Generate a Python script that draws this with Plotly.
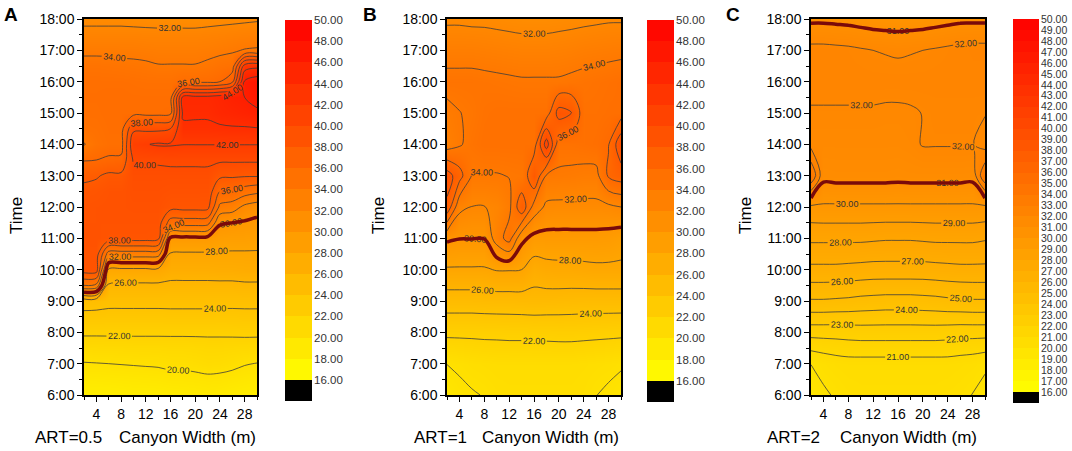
import plotly.graph_objects as go

# canyon width (m) and time of day (hours)
canyon_width = [2, 4, 6, 8, 10, 12, 14, 16, 18, 20, 22, 24, 26, 28, 30]
hours_a = [6, 6.5, 7, 7.5, 8, 8.5, 9, 9.5, 10, 10.5, 11, 11.5, 12,
           12.5, 13, 13.5, 14, 14.5, 15, 15.5, 16, 16.5, 17, 17.5, 18]
hours_bc = [6, 7, 8, 9, 10, 11, 12, 13, 14, 15, 16, 17, 18]

# ART=0.5 (rows = hours_a, cols = canyon_width)
temp_a = [
    [18.3, 18.3, 18.3, 18.4, 18.5, 18.5, 18.5, 18.6, 18.7, 18.8, 18.9, 18.8, 18.6, 18.5, 18.4],
    [19.1, 19.1, 19.15, 19.2, 19.25, 19.3, 19.35, 19.5, 19.5, 19.55, 19.65, 19.6, 19.45, 19.25, 19.1],
    [19.9, 19.95, 20.0, 20.05, 20.1, 20.15, 20.2, 20.35, 20.35, 20.5, 20.7, 20.6, 20.4, 20.1, 19.95],
    [21.0, 21.0, 21.05, 21.05, 21.1, 21.1, 21.1, 21.15, 21.15, 21.2, 21.3, 21.3, 21.2, 21.15, 21.1],
    [22.3, 22.3, 22.3, 22.3, 22.3, 22.3, 22.3, 22.3, 22.3, 22.3, 22.3, 22.3, 22.35, 22.4, 22.4],
    [23.5, 23.5, 23.45, 23.45, 23.45, 23.45, 23.45, 23.5, 23.5, 23.5, 23.5, 23.45, 23.45, 23.5, 23.5],
    [24.8, 24.7, 24.5, 24.5, 24.5, 24.5, 24.5, 24.5, 24.5, 24.5, 24.5, 24.5, 24.5, 24.5, 24.5],
    [34.0, 33.5, 25.7, 25.7, 25.7, 25.7, 25.7, 25.6, 25.6, 25.6, 25.6, 25.6, 25.6, 25.7, 25.7],
    [39.0, 39.0, 27.6, 27.6, 27.6, 27.6, 27.6, 26.9, 26.9, 26.9, 26.9, 27.0, 27.0, 27.1, 27.1],
    [38.9, 38.9, 33.0, 33.0, 33.0, 33.0, 32.8, 27.8, 27.8, 27.8, 27.8, 27.8, 27.8, 27.8, 27.8],
    [39.1, 39.1, 38.8, 38.8, 38.8, 38.8, 38.6, 29.5, 29.5, 29.5, 29.4, 28.9, 28.8, 28.8, 28.7],
    [39.0, 39.0, 39.0, 39.0, 39.0, 39.0, 39.0, 35.0, 35.0, 35.0, 34.8, 30.2, 30.0, 29.8, 29.5],
    [38.9, 39.0, 39.1, 39.1, 39.2, 39.2, 39.2, 38.7, 38.7, 38.7, 38.6, 33.5, 33.0, 31.5, 30.9],
    [38.6, 38.7, 39.0, 39.0, 39.4, 39.4, 39.4, 39.2, 39.2, 39.2, 39.2, 36.0, 35.8, 35.0, 34.5],
    [37.5, 37.8, 38.4, 38.4, 39.6, 39.6, 39.6, 39.6, 39.6, 39.6, 39.6, 38.4, 38.3, 38.2, 38.2],
    [35.9, 36.0, 36.3, 36.4, 40.2, 40.2, 40.2, 40.3, 40.3, 40.3, 40.3, 40.3, 40.3, 40.3, 40.3],
    [33.9, 34.8, 35.2, 35.2, 41.5, 41.9, 42.2, 42.2, 42.05, 42.05, 42.05, 42.05, 42.05, 42.05, 42.05],
    [34.9, 35.0, 35.3, 35.3, 39.6, 39.6, 39.6, 40.0, 43.6, 43.6, 43.6, 43.7, 43.8, 43.8, 43.9],
    [35.2, 35.2, 35.4, 35.4, 35.4, 35.4, 35.4, 35.5, 44.3, 44.3, 44.3, 44.8, 45.0, 45.3, 45.6],
    [35.3, 35.3, 35.4, 35.4, 35.3, 35.3, 35.3, 35.3, 44.6, 44.6, 44.6, 45.0, 45.6, 46.0, 46.8],
    [35.2, 35.2, 35.2, 35.2, 35.1, 35.0, 35.0, 35.0, 35.6, 35.6, 35.6, 36.0, 37.5, 46.3, 47.2],
    [34.7, 34.7, 34.6, 34.5, 34.4, 34.3, 34.1, 34.1, 34.1, 34.1, 34.4, 34.8, 35.0, 43.0, 43.5],
    [33.6, 33.6, 33.6, 33.5, 33.5, 33.4, 33.3, 33.3, 33.3, 33.3, 33.4, 33.6, 33.8, 34.1, 34.2],
    [32.6, 32.6, 32.6, 32.6, 32.6, 32.5, 32.5, 32.5, 32.5, 32.5, 32.6, 32.7, 32.8, 32.9, 33.0],
    [31.5, 31.5, 31.5, 31.5, 31.4, 31.4, 31.3, 31.3, 31.3, 31.3, 31.4, 31.5, 31.6, 31.7, 31.8],
]

# ART=1 (rows = hours_bc)
temp_b = [
    [19.3, 19.7, 19.9, 20.05, 20.3, 20.4, 20.4, 20.4, 20.4, 20.4, 20.4, 20.3, 20.02, 19.8, 19.5],
    [20.02, 20.2, 20.4, 20.5, 20.6, 20.6, 20.6, 20.6, 20.6, 20.6, 20.6, 20.5, 20.4, 20.3, 20.15],
    [22.4, 22.4, 22.4, 22.45, 22.45, 22.5, 22.5, 22.55, 22.55, 22.6, 22.6, 22.55, 22.5, 22.45, 22.4],
    [25.0, 25.0, 25.0, 25.05, 25.1, 25.1, 25.15, 25.2, 25.15, 25.1, 25.05, 25.0, 25.0, 25.0, 25.0],
    [27.8, 27.8, 27.8, 27.8, 28.1, 28.1, 28.0, 27.0, 27.3, 27.4, 27.4, 27.5, 27.6, 27.6, 27.6],
    [30.3, 30.05, 30.05, 30.05, 33.0, 34.8, 30.5, 29.4, 29.4, 29.4, 29.4, 29.4, 29.4, 29.3, 28.9],
    [37.5, 32.5, 31.95, 31.95, 32.3, 33.5, 37.5, 33.2, 31.6, 31.5, 31.5, 31.5, 31.5, 31.6, 32.0],
    [39.0, 36.8, 33.9, 33.9, 33.9, 34.05, 34.2, 38.0, 33.8, 33.7, 33.6, 33.4, 33.4, 36.3, 37.0],
    [33.0, 33.8, 34.6, 35.0, 35.0, 35.0, 35.0, 35.0, 41.0, 34.8, 34.8, 35.0, 35.2, 35.9, 39.5],
    [33.5, 33.95, 34.3, 34.8, 35.0, 35.0, 35.0, 35.0, 35.0, 38.8, 38.2, 35.0, 35.0, 35.2, 35.2],
    [34.6, 34.6, 34.6, 34.5, 34.4, 34.3, 34.2, 34.2, 34.2, 34.2, 34.4, 34.6, 34.8, 35.0, 35.2],
    [33.2, 33.2, 33.2, 33.1, 33.0, 32.9, 32.8, 32.8, 32.8, 32.9, 33.0, 33.2, 33.3, 33.4, 33.5],
    [31.7, 31.7, 31.6, 31.6, 31.5, 31.4, 31.3, 31.3, 31.3, 31.4, 31.5, 31.6, 31.7, 31.8, 31.8],
]

# ART=2 (rows = hours_bc)
temp_c = [
    [19.4, 19.85, 20.1, 20.3, 20.4, 20.4, 20.4, 20.4, 20.4, 20.4, 20.4, 20.3, 20.2, 19.98, 19.6],
    [20.02, 20.3, 20.5, 20.6, 20.6, 20.6, 20.6, 20.6, 20.6, 20.6, 20.6, 20.6, 20.5, 20.4, 20.2],
    [22.4, 22.4, 22.4, 22.45, 22.5, 22.5, 22.5, 22.5, 22.5, 22.5, 22.5, 22.45, 22.4, 22.4, 22.4],
    [24.9, 24.9, 24.85, 24.8, 24.7, 24.65, 24.6, 24.6, 24.6, 24.65, 24.7, 24.8, 24.85, 24.9, 24.9],
    [26.75, 26.75, 26.75, 26.7, 26.65, 26.6, 26.6, 26.6, 26.6, 26.6, 26.65, 26.7, 26.75, 26.75, 26.75],
    [28.2, 28.2, 28.2, 28.2, 28.2, 28.15, 28.1, 28.1, 28.1, 28.15, 28.2, 28.2, 28.2, 28.2, 28.1],
    [29.8, 29.85, 29.85, 29.85, 29.85, 29.85, 29.85, 29.85, 29.85, 29.85, 29.85, 29.85, 29.85, 29.85, 29.8],
    [34.0, 31.3, 31.35, 31.35, 31.35, 31.35, 31.35, 31.3, 31.35, 31.35, 31.35, 31.35, 31.35, 31.3, 34.0],
    [31.7, 31.7, 31.7, 31.7, 31.7, 31.7, 31.7, 31.7, 31.8, 32.05, 32.05, 32.05, 32.05, 32.05, 31.6],
    [31.9, 31.9, 31.9, 31.9, 31.9, 31.9, 31.85, 31.85, 31.9, 32.02, 32.1, 32.1, 32.1, 32.1, 32.05],
    [32.3, 32.3, 32.3, 32.3, 32.3, 32.3, 32.3, 32.3, 32.3, 32.3, 32.3, 32.3, 32.3, 32.3, 32.3],
    [32.3, 32.3, 32.25, 32.2, 32.1, 32.0, 31.95, 31.9, 31.95, 32.0, 32.1, 32.2, 32.3, 32.35, 32.35],
    [30.8, 30.8, 30.75, 30.7, 30.6, 30.5, 30.45, 30.4, 30.45, 30.5, 30.6, 30.7, 30.8, 30.8, 30.8],
]

time_ticks = [6, 7, 8, 9, 10, 11, 12, 13, 14, 15, 16, 17, 18]
time_labels = ["6:00", "7:00", "8:00", "9:00", "10:00", "11:00", "12:00",
               "13:00", "14:00", "15:00", "16:00", "17:00", "18:00"]
width_ticks = [4, 8, 12, 16, 20, 24, 28]

# colour-bar bands (band centres) and tick labels
cbar_bands_ab = [15, 17, 19, 21, 23, 25, 27, 29, 31, 33, 35, 37, 39, 41, 43, 45, 47, 49]
cbar_ticks_ab = [16, 18, 20, 22, 24, 26, 28, 30, 32, 34, 36, 38, 40, 42, 44, 46, 48, 50]
cbar_bands_c = [15.5, 16.5, 17.5, 18.5, 19.5, 20.5, 21.5, 22.5, 23.5, 24.5, 25.5, 26.5,
                27.5, 28.5, 29.5, 30.5, 31.5, 32.5, 33.5, 34.5, 35.5, 36.5, 37.5, 38.5,
                39.5, 40.5, 41.5, 42.5, 43.5, 44.5, 45.5, 46.5, 47.5, 48.5, 49.5]
cbar_ticks_c = [16, 17, 18, 19, 20, 21, 22, 23, 24, 25, 26, 27, 28, 29, 30, 31, 32, 33,
                34, 35, 36, 37, 38, 39, 40, 41, 42, 43, 44, 45, 46, 47, 48, 49, 50]

panels = [
    dict(z=temp_a, y=hours_a, zmin=14, step=2, thick=30, bands=cbar_bands_ab, ticks=cbar_ticks_ab,
         cb=[285, 312, 20, 401], cb_font=11.5, letter="A", art="ART=0.5",
         dom=[84, 257], letter_x=2, time_x=16, art_x=33, cw_x=117),
    dict(z=temp_b, y=hours_bc, zmin=14, step=2, thick=30, bands=cbar_bands_ab, ticks=cbar_ticks_ab,
         cb=[647, 674, 20, 402], cb_font=11.5, letter="B", art="ART=1",
         dom=[447, 621], letter_x=361, time_x=378, art_x=412, cw_x=480),
    dict(z=temp_c, y=hours_bc, zmin=15, step=1, thick=31, bands=cbar_bands_c, ticks=cbar_ticks_c,
         cb=[1013, 1039, 19, 403], cb_font=10.5, letter="C", art="ART=2",
         dom=[811, 985], letter_x=724, time_x=745, art_x=765, cw_x=838),
]

W, H = 1072, 451
font = "Liberation Sans, Arial, sans-serif"


def px_x(px):
    return px / W


def px_y(py):
    return 1 - py / H


fig = go.Figure()
annotations = []
for i, p in enumerate(panels):
    n = "" if i == 0 else str(i + 1)
    nb = str(i + 4)  # axes for the colour bar
    black = (16 - p["zmin"]) / (50 - p["zmin"])
    cscale = [[0, "#000000"], [black, "#000000"], [black, "#FFFF00"], [1, "#FF0000"]]

    fig.add_trace(go.Contour(
        x=canyon_width, y=p["y"], z=p["z"],
        xaxis="x" + n, yaxis="y" + n,
        zmin=p["zmin"], zmax=50, colorscale=cscale, showscale=False,
        contours=dict(start=16, end=50, size=p["step"], coloring="heatmap",
                      showlabels=True, labelformat=".2f",
                      labelfont=dict(size=9, color="#333333", family=font)),
        line=dict(color="#3c3c3c", width=0.8),
        hoverinfo="skip",
    ))
    # heavy dark-red isotherm
    fig.add_trace(go.Contour(
        x=canyon_width, y=p["y"], z=p["z"],
        xaxis="x" + n, yaxis="y" + n,
        contours=dict(start=p["thick"], end=p["thick"], size=1, coloring="none"),
        line=dict(color="#7a0a0a", width=3.5),
        showscale=False, hoverinfo="skip",
    ))
    # colour bar drawn as a one-column heatmap
    fig.add_trace(go.Heatmap(
        x=[0], y=p["bands"], z=[[b] for b in p["bands"]],
        xaxis="x" + nb, yaxis="y" + nb,
        zmin=p["zmin"], zmax=50, colorscale=cscale, showscale=False,
        hoverinfo="skip",
    ))

    axis_common = dict(showgrid=False, zeroline=False, automargin=False,
                       tickfont=dict(size=14, color="black", family=font),
                       ticks="outside", ticklen=5, tickcolor="black",
                       showline=True, linecolor="black", linewidth=1.5, mirror=True)
    fig.layout["xaxis" + n] = dict(
        domain=[px_x(p["dom"][0]), px_x(p["dom"][1])], range=[2, 30],
        tickmode="array", tickvals=width_ticks,
        minor=dict(tickmode="linear", tick0=2, dtick=2, ticks="outside", ticklen=3, tickcolor="black"),
        anchor="y" + n, **axis_common,
    )
    fig.layout["yaxis" + n] = dict(
        domain=[px_y(395), px_y(19)], range=[6, 18],
        tickmode="array", tickvals=time_ticks, ticktext=time_labels,
        minor=dict(tickmode="linear", tick0=6, dtick=0.5, ticks="outside", ticklen=3, tickcolor="black"),
        anchor="x" + n, **axis_common,
    )
    x0, x1, ytop, ybot = p["cb"]
    fig.layout["xaxis" + nb] = dict(
        domain=[px_x(x0), px_x(x1)], range=[-0.5, 0.5], visible=False,
        automargin=False, anchor="y" + nb,
    )
    fig.layout["yaxis" + nb] = dict(
        domain=[px_y(ybot), px_y(ytop)], range=[p["zmin"], 50], side="right",
        tickmode="array", tickvals=p["ticks"], ticktext=["%.2f" % t for t in p["ticks"]],
        ticks="", showline=False, showgrid=False, zeroline=False, automargin=False,
        ticklabelstandoff=1,
        tickfont=dict(size=p["cb_font"], color="#333333", family=font), anchor="x" + nb,
    )

    annotations += [
        dict(text="<b>%s</b>" % p["letter"], x=px_x(p["letter_x"]), y=px_y(2),
             xanchor="left", yanchor="top", font=dict(size=19, color="black", family=font)),
        dict(text="Time", textangle=-90, x=px_x(p["time_x"]), y=px_y(216),
             xanchor="center", yanchor="middle", font=dict(size=17, color="black", family=font)),
        dict(text=p["art"], x=px_x(p["art_x"]), y=px_y(437),
             xanchor="left", yanchor="middle", font=dict(size=17, color="black", family=font)),
        dict(text="Canyon Width (m)", x=px_x(p["cw_x"]), y=px_y(437),
             xanchor="left", yanchor="middle", font=dict(size=17, color="black", family=font)),
    ]

for a in annotations:
    a.update(xref="paper", yref="paper", showarrow=False)

fig.update_layout(
    width=W, height=H, margin=dict(l=0, r=0, t=0, b=0),
    paper_bgcolor="white", plot_bgcolor="white",
    showlegend=False, annotations=annotations,
    font=dict(family=font),
)

# drop the browser's default page margin so the figure sits at the window corner
fig.write_html("out.html", config={"displayModeBar": False},
               post_script="document.body.style.margin = '0';")
